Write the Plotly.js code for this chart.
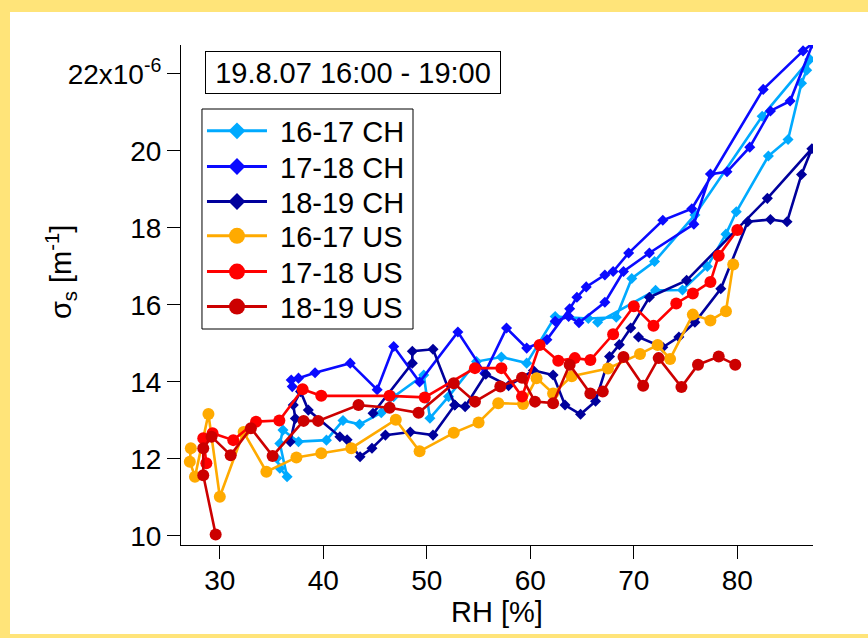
<!DOCTYPE html>
<html>
<head>
<meta charset="utf-8">
<script src="https://cdn.plot.ly/plotly-3.0.1.min.js"></script>
<style>
  html, body { margin:0; padding:0; width:868px; height:638px; overflow:hidden; background:#ffe479; }
  #chart { position:absolute; left:10px; top:12px; width:858px; height:622px; background:#fff; }
</style>
</head>
<body>
<div id="chart"></div>
<script>
// RH [%] and sigma_s [1e-6 m^-1]
const rh_CH_16_17 = [35.5,35.8,36.5,35.8,36.1,37.6,40.3,41.9,43.5,45.6,46.8,49.7,50.3,52.1,54.8,57.2,59.65,62.4,65.6,68.3,69.8,72.0,75.9,82.4,87.0,86.7,86.2,84.9,83.0,79.9,78.9,77.1,74.7,72.1,66.5];
const sg_CH_16_17 = [12.02,11.76,11.54,12.40,12.75,12.45,12.49,13.00,12.90,13.20,13.62,14.18,13.06,13.62,14.53,14.65,14.49,15.70,15.65,15.68,16.69,17.13,18.34,20.90,22.38,22.10,21.76,20.30,19.87,18.42,17.84,17.00,16.39,16.38,15.55];

const rh_CH_17_18 = [37.0,36.9,37.6,39.2,42.6,45.2,46.8,49.3,53.0,55.6,57.7,59.65,61.6,63.8,64.5,65.4,67.2,68.0,69.5,72.8,75.6,82.5,86.35,87.3,85.1,83.2,81.2,79.0,77.4,75.8,71.5,69.0,67.2,64.7,63.7,62.4];
const sg_CH_17_18 = [13.88,14.05,14.10,14.24,14.49,13.80,14.92,14.00,15.30,14.23,15.40,14.88,15.10,15.90,16.20,16.47,16.78,16.87,17.35,18.20,18.50,21.60,22.60,22.80,21.30,21.04,20.10,19.46,19.40,18.10,17.35,16.87,16.07,15.54,15.70,15.58];

const rh_CH_18_19 = [36.8,37.3,37.1,37.8,38.55,41.6,42.3,43.55,44.7,46.0,48.4,50.6,52.7,53.7,55.7,57.9,60.3,62.2,63.35,64.85,66.3,67.65,68.6,69.7,71.5,75.1,82.9,87.2,86.2,84.8,83.2,81.0,78.4,75.9,74.35,72.8,70.45,null,44.8,48.6,48.6,50.6,52.7];
const sg_CH_18_19 = [12.45,13.05,13.40,13.75,13.27,12.58,12.50,12.06,12.28,12.62,12.70,12.62,13.40,13.36,14.20,13.90,14.30,14.18,13.40,13.16,13.50,14.66,14.97,15.40,16.20,16.64,18.77,20.06,19.39,18.16,18.22,18.16,16.42,15.55,15.17,14.90,15.17,null,13.19,14.49,14.80,14.85,13.40];

const rh_US_16_17 = [27.2,27.1,27.6,28.9,30.0,32.3,34.5,37.4,39.8,42.7,47.0,49.3,52.6,55.0,56.9,59.3,60.6,62.2,64.0,67.5,70.6,72.3,73.5,75.7,77.4,78.9,79.6];
const sg_US_16_17 = [12.28,11.93,11.54,13.17,11.02,12.70,11.67,12.04,12.15,12.28,13.02,12.20,12.68,12.95,13.45,13.43,14.10,13.70,14.15,14.35,14.73,14.96,14.60,15.75,15.60,15.84,17.05];

const rh_US_17_18 = [28.7,28.4,29.3,31.3,33.5,35.75,38.0,39.8,46.4,49.8,54.65,57.2,59.2,60.9,62.7,64.3,65.8,68.0,70.0,71.9,74.1,75.7,77.4,78.2,80.0];
const sg_US_17_18 = [11.89,12.54,12.67,12.49,12.97,13.00,13.81,13.64,13.64,13.60,14.36,14.36,13.62,14.96,14.55,14.62,14.57,15.24,15.97,15.46,16.04,16.30,16.60,17.28,17.95];

const rh_US_18_19 = [29.6,28.4,28.4,29.2,31.05,33.0,35.1,38.1,39.5,43.4,46.4,49.2,52.6,54.65,57.1,59.2,60.45,62.2,63.8,65.8,67.0,69.0,70.9,72.4,74.6,76.2,78.2,79.8];
const sg_US_18_19 = [10.04,11.58,12.28,12.58,12.10,12.80,12.08,12.99,12.99,13.40,13.33,13.20,13.97,13.49,13.88,14.11,13.49,13.45,14.45,13.70,13.75,14.65,13.90,14.62,13.87,14.45,14.66,14.45];

const seriesNames = ['16-17 CH','17-18 CH','18-19 CH','16-17 US','17-18 US','18-19 US'];
const yTickVals = [10,12,14,16,18,20,22];
const yTickText = ['10','12','14','16','18','20','22x10<sup>-6</sup>'];
const xTickVals = [30,40,50,60,70,80];

const colors = ['#00aaff','#0a0aff','#00009c','#ffaa00','#ff0000','#cc0000'];
const symbols = ['diamond','diamond','diamond','circle','circle','circle'];
const xs = [rh_CH_16_17, rh_CH_17_18, rh_CH_18_19, rh_US_16_17, rh_US_17_18, rh_US_18_19];
const ys = [sg_CH_16_17, sg_CH_17_18, sg_CH_18_19, sg_US_16_17, sg_US_17_18, sg_US_18_19];

const traces = [];
for (let i = 0; i < 6; i++) {
  traces.push({
    x: xs[i], y: ys[i], type:'scatter', mode:'lines+markers', name: seriesNames[i],
    showlegend:false, connectgaps:false,
    line:{color:colors[i], width:2.6},
    marker:{color:colors[i], symbol:symbols[i], size: symbols[i]==='circle' ? 12 : 8.5}
  });
}
// legend entries: one single-row legend per series so the row spacing matches the reference
const legendIds = ['legend','legend2','legend3','legend4','legend5','legend6'];
for (let i = 0; i < 6; i++) {
  traces.push({
    x:[null], y:[null], type:'scatter', mode:'lines+markers', name: '\u00a0' + seriesNames[i],
    showlegend:true, legend: legendIds[i],
    line:{color:colors[i], width:3},
    marker:{color:colors[i], symbol:symbols[i], size: symbols[i]==='circle' ? 16 : 13}
  });
}

const layout = {
  width:858, height:622,
  margin:{l:171, r:55, t:33, b:89},
  paper_bgcolor:'#ffffff', plot_bgcolor:'#ffffff',
  font:{family:'"Liberation Sans", Arial, sans-serif', size:28, color:'#000'},
  showlegend:true,
  xaxis:{
    range:[26.25, 87.31], showgrid:false, zeroline:false, showline:true,
    linecolor:'#000', linewidth:1, ticks:'outside', ticklen:13, tickwidth:1, tickcolor:'#000',
    tickvals:xTickVals, tickfont:{size:28}, ticklabelstandoff:-3,
    title:{text:'RH [%]', font:{size:29}, standoff:4}
  },
  yaxis:{
    range:[9.766, 22.753], showgrid:false, zeroline:false, showline:true,
    linecolor:'#000', linewidth:1, ticks:'outside', ticklen:13, tickwidth:1, tickcolor:'#000',
    tickvals:yTickVals, ticktext:yTickText, tickfont:{size:28}
  },
  shapes:[{
    type:'rect', xref:'paper', yref:'paper', x0:0.0332, x1:0.3671, y0:0.432, y1:0.872,
    line:{color:'#000', width:1}, fillcolor:'rgba(0,0,0,0)', layer:'above'
  }],
  annotations:[{
    text:'19.8.07 16:00 - 19:00', xref:'paper', yref:'paper', x:0.2727, y:0.945,
    xanchor:'center', yanchor:'middle', showarrow:false,
    font:{size:29}, bordercolor:'#000', borderwidth:1, borderpad:2, width:290, height:37, bgcolor:'#fff'
  },{
    text:'σ<sub>s</sub> [m<sup>-1</sup>]', xref:'paper', yref:'paper', x:-0.1898, y:0.546,
    xanchor:'center', yanchor:'middle', showarrow:false, textangle:-90,
    font:{size:29}
  }]
};
const rowY = [0.828, 0.7566, 0.6866, 0.618, 0.5466, 0.4766];
for (let i = 0; i < 6; i++) {
  layout[legendIds[i]] = {
    x:0.0332, y:rowY[i], xanchor:'left', yanchor:'middle',
    bgcolor:'rgba(0,0,0,0)', borderwidth:0,
    font:{size:29}, itemwidth:60
  };
}

Plotly.newPlot('chart', traces, layout, {displayModeBar:false, staticPlot:true});
</script>
</body>
</html>
